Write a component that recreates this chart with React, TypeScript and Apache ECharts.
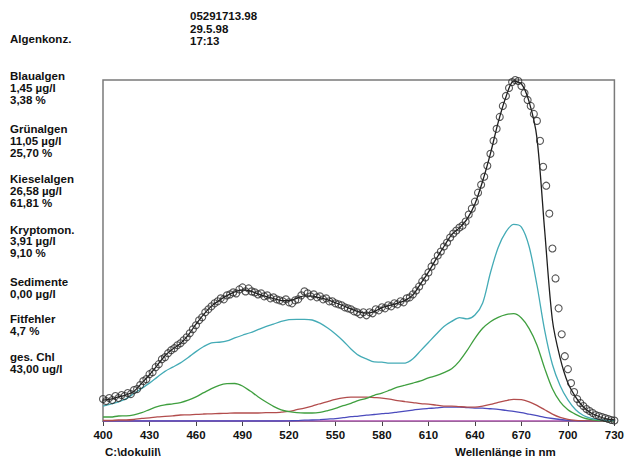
import React, { useEffect, useRef } from "react";
import * as echarts from "echarts";

// Wavelength grid (nm) for fitted component curves
const wavelengths = [
  400, 405, 410, 415, 420, 425, 430, 435, 440, 445, 450, 455, 460, 465, 470, 475, 480, 485, 490, 495,
  500, 505, 510, 515, 520, 525, 530, 535, 540, 545, 550, 555, 560, 565, 570, 575, 580, 585, 590, 595,
  600, 605, 610, 615, 620, 625, 630, 635, 640, 645, 650, 655, 660, 665, 670, 675, 680, 685, 690, 695,
  700, 705, 710, 715, 720, 725, 730,
];

// Relative fluorescence of each fitted component
const kieselalgen = [
  15, 17, 19.2, 22.4, 27.5, 32.7, 38, 44, 49.8, 54, 58.3, 63.7, 69.6, 74.7, 78.4, 79, 80.3, 83.3, 86, 88.5,
  91.6, 94.6, 97.2, 99.8, 101.6, 102, 102, 101.3, 98.1, 93.2, 87.3, 80.3, 72.3, 65.8, 62.3, 59.2, 59, 58, 58, 58.1,
  62.4, 70.6, 78.8, 87, 94.8, 99.9, 103.6, 102.5, 106.3, 118.4, 148.7, 174, 189.6, 197.2, 194.5, 174.8, 136.4, 91, 56.7, 35.4,
  21.2, 11.3, 5.5, 2.7, 1.3, 0.7, 0.3,
];
const gruenalgen = [
  4, 4, 5, 5.1, 6.2, 8.4, 11.5, 14.4, 16.2, 17.2, 18.5, 20.9, 24.2, 28.4, 32.5, 35.8, 37.4, 37.6, 35.1, 30,
  24.4, 19.3, 14.7, 11.2, 9.4, 8.4, 8, 8, 8.7, 10.5, 12.6, 15.4, 17.7, 20.6, 22.8, 25.8, 27.9, 30.9, 34, 36,
  38.1, 40.2, 43.2, 45.4, 48.5, 52.3, 60.1, 70.8, 82.9, 93, 99.6, 104, 106.7, 107.6, 103.3, 92.7, 76.3, 52.8, 32.3, 19.1,
  11.2, 6.6, 3.1, 1.3, 0.3, 0, 0,
];
const kryptomonaden = [
  0.5, 0.5, 1, 1, 1.5, 2.6, 3.2, 4.1, 4.6, 5.2, 6, 6.1, 6.7, 7, 7.2, 7.5, 7.7, 8, 8, 8,
  8, 8.3, 8.3, 8.8, 9.6, 11.3, 13, 15, 17.3, 19.5, 21.6, 23.2, 23.9, 24, 24, 23.5, 23, 22, 20.5, 19.5,
  18.5, 17.4, 16.9, 15.9, 15, 14.9, 14.4, 14, 14, 14.9, 16.6, 18.7, 20.5, 21.7, 21.4, 19.2, 15.7, 11.3, 6.9, 3.6,
  1.6, 0.7, 0.3, 0, 0, 0, 0,
];
const blaualgen = [
  0, 0, 0, 0, 0, 0, 0, 0, 0, 0, 0, 0, 0, 0, 0, 0, 0, 0, 0, 0,
  0, 0, 0, 0, 0.2, 0.4, 0.8, 1, 1.4, 1.9, 2.4, 3.3, 4.3, 4.9, 5.9, 6.5, 7.4, 8, 9, 10,
  11, 12, 12.6, 13.1, 14, 14, 13.9, 13.4, 13, 12.9, 12.3, 11.7, 10.6, 9.6, 8.4, 6.8, 5.3, 3.7, 2.5, 1.5,
  0.7, 0.3, 0, 0, 0, 0, 0,
];
const sedimente = [
  0, 0, 0, 0, 0, 0, 0, 0, 0, 0, 0, 0, 0, 0, 0, 0, 0, 0, 0, 0,
  0, 0, 0, 0, 0, 0, 0, 0, 0, 0, 0, 0, 0, 0, 0, 0, 0, 0, 0, 0,
  0, 0, 0, 0, 0, 0, 0, 0, 0, 0, 0, 0, 0, 0, 0, 0, 0, 0, 0, 0,
  0, 0, 0, 0, 0, 0, 0,
];
const fitSum = [
  21, 22, 24.1, 26.2, 29.8, 38, 46.4, 55.8, 65.5, 72.2, 77.8, 86.2, 97.1, 107, 115.2, 121, 125.7, 129.4, 131.5, 130.5,
  127.4, 124.9, 122.8, 120.8, 120.6, 123, 125.4, 125.3, 123.5, 121.5, 118.6, 115.6, 112.5, 109.4, 108.1, 109.8, 113.8, 115.9, 118, 121,
  126.5, 137.8, 149.3, 162.6, 175, 187, 193.7, 202.8, 217.7, 240.7, 268.2, 299.5, 325, 341, 338, 320, 284, 191, 101, 63,
  38, 24, 14, 8, 4.5, 2, 1,
];

// Measured spectrum (2 nm steps)
const measuredNm = [
  400, 402, 404, 406, 408, 410, 412, 414, 416, 418, 420, 422, 424, 426, 428, 430, 432, 434, 436, 438,
  440, 442, 444, 446, 448, 450, 452, 454, 456, 458, 460, 462, 464, 466, 468, 470, 472, 474, 476, 478,
  480, 482, 484, 486, 488, 490, 492, 494, 496, 498, 500, 502, 504, 506, 508, 510, 512, 514, 516, 518,
  520, 522, 524, 526, 528, 530, 532, 534, 536, 538, 540, 542, 544, 546, 548, 550, 552, 554, 556, 558,
  560, 562, 564, 566, 568, 570, 572, 574, 576, 578, 580, 582, 584, 586, 588, 590, 592, 594, 596, 598,
  600, 602, 604, 606, 608, 610, 612, 614, 616, 618, 620, 622, 624, 626, 628, 630, 632, 634, 636, 638,
  640, 642, 644, 646, 648, 650, 652, 654, 656, 658, 660, 662, 664, 666, 668, 670, 672, 674, 676, 678,
  680, 682, 684, 686, 688, 690, 692, 694, 696, 698, 700, 702, 704, 706, 708, 710, 712, 714, 716, 718,
  720, 722, 724, 726, 728, 730,
];
const measured = [
  22, 20, 23, 21, 25, 23, 26, 25, 28, 27, 31, 32, 36, 40, 42, 47, 49, 54, 57, 62,
  64, 68, 71, 73, 76, 78, 81, 84, 88, 92, 96, 101, 104, 109, 112, 115, 118, 120, 123, 122,
  126, 127, 129, 128, 132, 134, 130, 133, 130, 129, 127, 128, 125, 126, 123, 124, 122, 121, 120, 122,
  119, 118, 121, 122, 126, 130, 128, 125, 127, 124, 125, 122, 123, 120, 120, 118, 117, 116, 114, 113,
  112, 110, 109, 107, 109, 106, 109, 108, 112, 111, 114, 113, 116, 115, 118, 117, 120, 119, 123, 124,
  127, 131, 135, 140, 144, 149, 155, 160, 166, 170, 175, 179, 184, 188, 191, 194, 196, 200, 207, 213,
  220, 229, 237, 245, 256, 268, 281, 293, 305, 316, 326, 334, 340, 342, 341, 336, 329, 322, 316, 308,
  301, 281, 255, 236, 208, 173, 143, 113, 87, 65, 52, 38, 29, 22, 18, 15, 12, 10, 8, 6,
  5, 4, 3, 2, 1, 0.5,
];

const xTicks = { min: 400, max: 730, step: 30 };

const FONT = 'bold 11.5px "Liberation Sans", Arial, sans-serif';

const leftTexts: [string, number, number][] = [
  ["05291713.98", 190, 16],
  ["29.5.98", 190, 28.5],
  ["17:13", 190, 40.5],
  ["Algenkonz.", 10, 39],
  ["Blaualgen", 10, 76],
  ["1,45 µg/l", 10, 88],
  ["3,38 %", 10, 99.5],
  ["Grünalgen", 10, 129],
  ["11,05 µg/l", 10, 141],
  ["25,70 %", 10, 152.5],
  ["Kieselalgen", 10, 179],
  ["26,58 µg/l", 10, 191],
  ["61,81 %", 10, 203],
  ["Kryptomon.", 10, 229.5],
  ["3,91 µg/l", 10, 241],
  ["9,10 %", 10, 252.5],
  ["Sedimente", 10, 282],
  ["0,00 µg/l", 10, 294],
  ["Fitfehler", 10, 319],
  ["4,7 %", 10, 331],
  ["ges. Chl", 10, 357],
  ["43,00 ug/l", 10, 369],
  ["C:\\dokulil\\", 105, 452],
  ["Wellenlänge in nm", 455, 452],
];

function pairs(values: number[]) {
  return wavelengths.map((w, i) => [w, values[i]]);
}

export default function App() {
  const ref = useRef<HTMLDivElement>(null);

  useEffect(() => {
    if (!ref.current) return;
    const chart = echarts.init(ref.current, undefined, { renderer: "svg" });

    const lineSeries = (name: string, data: number[], color: string, width = 1.3) => ({
      name,
      type: "line",
      data: pairs(data),
      showSymbol: false,
      symbol: "none",
      smooth: 0.3,
      lineStyle: { color, width },
      itemStyle: { color },
      silent: true,
    });

    chart.setOption({
      animation: false,
      backgroundColor: "#ffffff",
      grid: {
        left: 103,
        top: 80,
        width: 517,
        height: 341,
        show: true,
        borderColor: "#7a7a7a",
        borderWidth: 1.5,
      },
      xAxis: {
        type: "value",
        min: xTicks.min,
        max: xTicks.max,
        interval: xTicks.step,
        axisLine: { show: true, onZero: false, lineStyle: { color: "#555", width: 1 } },
        axisTick: { show: true, length: 5, lineStyle: { color: "#444", width: 1 } },
        axisLabel: {
          color: "#111",
          fontWeight: "bold",
          fontSize: 11.5,
          fontFamily: '"Liberation Sans", Arial, sans-serif',
          margin: 8,
        },
        splitLine: { show: false },
      },
      yAxis: { type: "value", min: 0, max: 342, show: false },
      series: [
        lineSeries("Sedimente", sedimente, "#d070d0", 1.6),
        lineSeries("Blaualgen", blaualgen, "#4b4bbd"),
        lineSeries("Kryptomonaden", kryptomonaden, "#b24d4d"),
        lineSeries("Grünalgen", gruenalgen, "#3f9f3f"),
        lineSeries("Kieselalgen", kieselalgen, "#44abb6"),
        lineSeries("Summe", fitSum, "#1e1e1e", 1.3),
        {
          name: "Messung",
          type: "scatter",
          data: measuredNm.map((w, i) => [w, measured[i]]),
          symbol: "circle",
          symbolSize: 7,
          clip: false,
          z: 5,
          itemStyle: { color: "rgba(255,255,255,0)", borderColor: "#2a2a2a", borderWidth: 1.1 },
          silent: true,
        },
      ],
      graphic: leftTexts.map(([text, x, y]) => ({
        type: "text",
        x,
        y,
        silent: true,
        style: { text, font: FONT, fill: "#111", verticalAlign: "middle", align: "left" },
      })),
    });

    return () => chart.dispose();
  }, []);

  return (
    <div
      ref={ref}
      style={{ position: "fixed", left: 0, top: 0, width: 627, height: 457, background: "#fff" }}
    />
  );
}
